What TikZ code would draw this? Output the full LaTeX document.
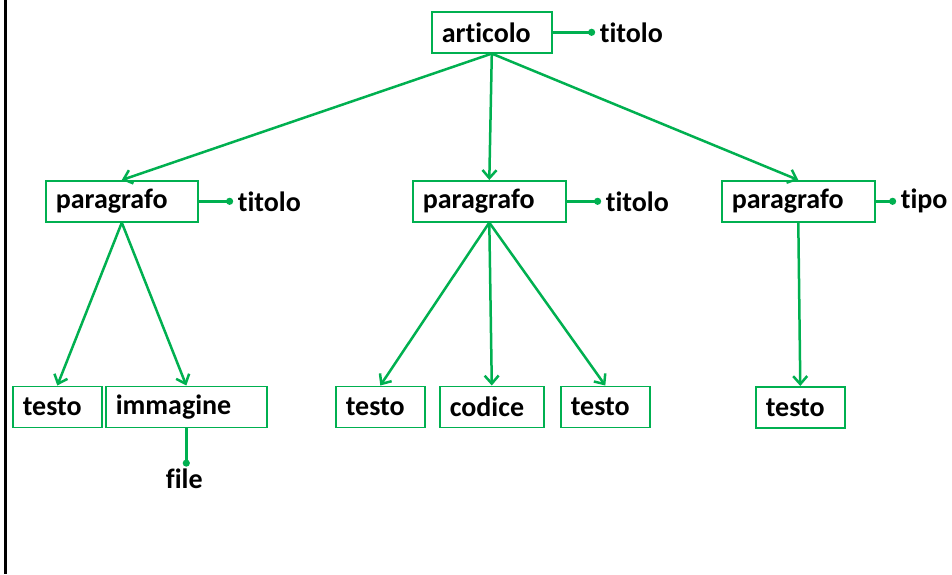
\documentclass[tikz,border=0pt]{standalone}
\usepackage{fontspec}
\setmainfont{Carlito}[Ligatures=NoCommon]
\usetikzlibrary{arrows.meta,calc}
\definecolor{og}{HTML}{00B050}
\begin{document}
\begin{tikzpicture}[x=1pt,y=-1pt,
  box/.style={draw=og, line width=1.6pt, rectangle, anchor=north west,
    inner xsep=10pt, inner ysep=0pt, minimum height=41pt, align=left,
    font=\fontsize{28}{32}\selectfont\bfseries},
  attr/.style={anchor=west, inner sep=0pt, font=\fontsize{28}{32}\selectfont\bfseries},
  link/.style={draw=og, line width=2.5pt, -{Straight Barb[length=8pt,width=14pt,line width=2.5pt]}},
  prop/.style={draw=og, line width=2.5pt},
  dot/.style={fill=og},
]
\useasboundingbox (0,0) rectangle (952,574);
\fill[white] (0,0) rectangle (952,574);
\draw[line width=2.6pt] (5.5,0) -- (5.5,574);

% boxes
\node[box, text width=100pt] (art) at (431,11) {articolo};
\node[box, text width=132pt] (pL) at (45,180) {paragrafo};
\node[box, text width=133pt] (pM) at (412,180) {paragrafo};
\node[box, text width=133pt] (pR) at (721,180) {paragrafo};
\node[box, text width=69pt] (t1) at (12,385.5) {testo};
\node[box, text width=141pt] (img) at (105,385.5) {immagine};
\node[box, text width=69pt] (t2) at (335,385.5) {testo};
\node[box, text width=84pt] (cod) at (439,385.5) {codice};
\node[box, text width=69pt] (t3) at (560,385.5) {testo};
\node[box, text width=69pt] (t4) at (755,386) {testo};

% attribute points
\coordinate (dA) at ($(art.east)+(39,0)$);
\coordinate (dL) at ($(pL.east)+(31,0)$);
\coordinate (dM) at ($(pM.east)+(31,0)$);
\coordinate (dR) at ($(pR.east)+(17,0)$);
\coordinate (dF) at ($(img.south)+(0,35)$);

\draw[prop] (art.east) -- (dA);
\draw[prop] (pL.east) -- (dL);
\draw[prop] (pM.east) -- (dM);
\draw[prop] (pR.east) -- (dR);
\draw[prop] (img.south) -- (dF);
\foreach \d in {dA,dL,dM,dR,dF} \fill[dot] (\d) circle (3.6pt);

\node[attr] (aA) at ($(dA)+(8,0)$) {titolo};
\node[attr] (aL) at ($(dL)+(8,0)$) {titolo};
\node[attr] (aM) at ($(dM)+(8,0)$) {titolo};
\node[attr] (aR) at ($(dR)+(8,0)$) {tipo};
\node[anchor=north, inner sep=0pt, font=\fontsize{28}{32}\selectfont\bfseries] (aF) at ($(dF)+(-2,6)$) {file};

% tree connectors
\draw[link] (art.south) -- (pL.north);
\draw[link] (art.south) -- (pM.north);
\draw[link] (art.south) -- (pR.north);
\draw[link] (pL.south) -- (t1.north);
\draw[link] (pL.south) -- (img.north);
\draw[link] (pM.south) -- (t2.north);
\draw[link] (pM.south) -- (cod.north);
\draw[link] (pM.south) -- (t3.north);
\draw[link] (pR.south) -- (t4.north);
\end{tikzpicture}
\end{document}
